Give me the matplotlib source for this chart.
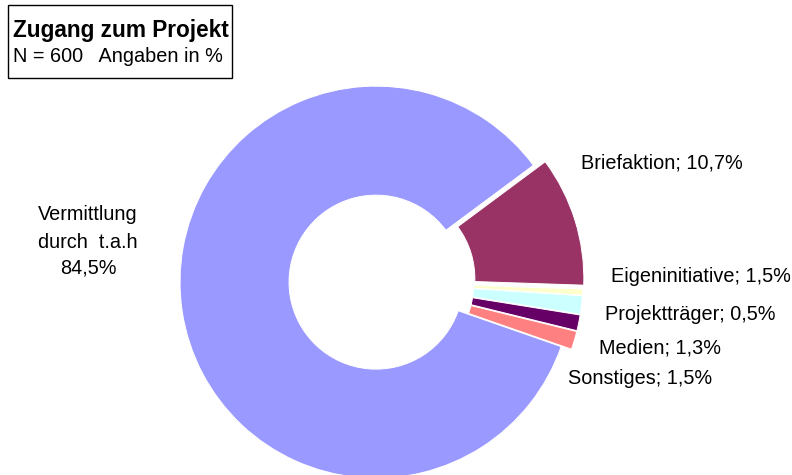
import matplotlib.pyplot as plt
from matplotlib.patches import Rectangle

plt.rcParams['font.family'] = ['Liberation Sans', 'DejaVu Sans']

# slices in drawing order (clockwise, starting with the big one)
labels = ['Vermittlung durch t.a.h', 'Briefaktion', 'Projektträger',
          'Eigeninitiative', 'Medien', 'Sonstiges']
values = [84.5, 10.7, 0.5, 1.5, 1.3, 1.5]
colors = ['#9999FF', '#993366', '#FFFFCC', '#CCFFFF', '#660066', '#FF8080']
explode_frac = [0.005, 0.058, 0.05, 0.05, 0.05, 0.05]  # fraction of radius

# outside labels (text, left x, center y in pixels from top)
label_texts = ['Briefaktion; 10,7%', 'Eigeninitiative; 1,5%', 'Projektträger; 0,5%',
               'Medien; 1,3%', 'Sonstiges; 1,5%']
label_pos = [(581, 163), (611, 276), (605, 315), (599, 348), (568, 378)]

W, H = 792, 475
fig = plt.figure(figsize=(W / 100, H / 100), dpi=100)
ax = fig.add_axes([0, 0, 1, 1])

cx, cy, R, r = 377, H - 282, 196, 87
# pie's explode is in data units, so scale by the radius
ax.pie(values, colors=colors, explode=[e * R for e in explode_frac],
       startangle=340.8, counterclock=False, center=(cx, cy), radius=R,
       wedgeprops=dict(width=R - r, edgecolor='white', linewidth=0.7))
ax.set_xlim(0, W)
ax.set_ylim(0, H)
ax.set_aspect('equal')
ax.axis('off')

fs = 14.3
for t, (x, y) in zip(label_texts, label_pos):
    ax.text(x, H - y, t, fontsize=fs, ha='left', va='center')

for t, y in zip(['Vermittlung', 'durch  t.a.h', '84,5%'], [215, 242, 268]):
    ax.text(88, H - y, t, fontsize=fs, ha='center', va='center')

# title box
ax.add_patch(Rectangle((8, H - 78), 224, 73, fill=False, edgecolor='black',
                       linewidth=1, clip_on=False))
ax.text(13, H - 30, 'Zugang zum Projekt', fontsize=16.3, fontweight='bold',
        ha='left', va='center')
ax.text(13, H - 57, 'N = 600   Angaben in %', fontsize=fs, ha='left', va='center')

fig.savefig('out.png', dpi=100)
